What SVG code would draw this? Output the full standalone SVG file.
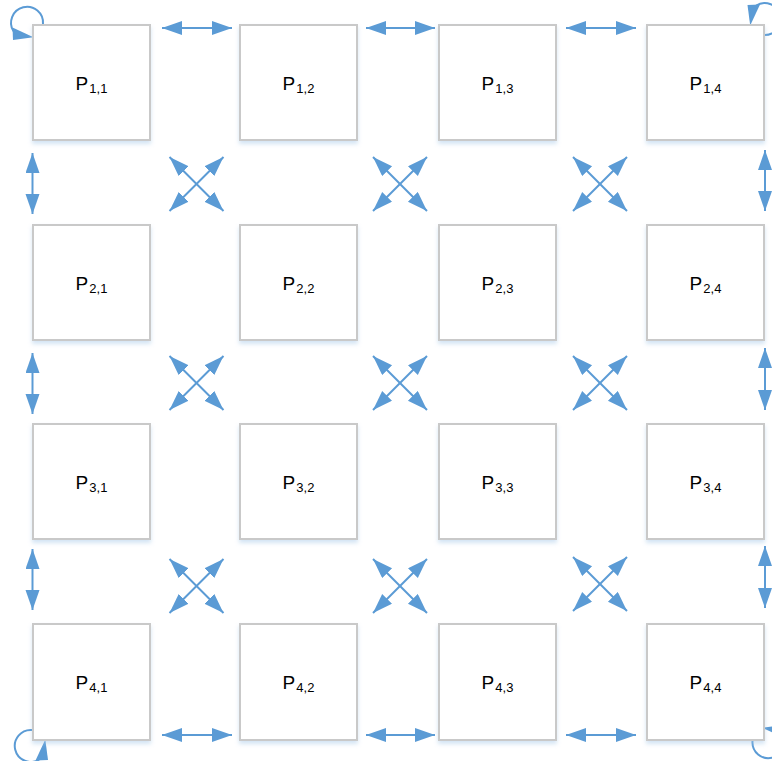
<svg xmlns="http://www.w3.org/2000/svg" xmlns:xlink="http://www.w3.org/1999/xlink" width="772" height="761" viewBox="0 0 772 761">
<style>
.box{fill:#ffffff;stroke:#c9c9c9;stroke-width:2;filter:url(#sh)}
.lbl{font-family:"Liberation Sans",Arial,sans-serif;font-size:19px;fill:#000;text-anchor:middle}
.sub{font-size:13px}
.ar{stroke:#5b9bd5;stroke-width:2;fill:none;marker-start:url(#ah);marker-end:url(#ah)}
.lp{stroke:#5b9bd5;stroke-width:2;fill:none}
.hd{fill:#5b9bd5}
</style>
<defs>
<filter id="sh" x="-10%" y="-10%" width="120%" height="125%">
<feDropShadow dx="0" dy="3" stdDeviation="2" flood-color="#9dc3e6" flood-opacity="0.45"/>
</filter>
<marker id="ah" markerUnits="userSpaceOnUse" markerWidth="22" markerHeight="16" refX="20" refY="7" orient="auto-start-reverse" viewBox="0 0 22 16">
<path d="M0,0 L20,7 L0,14 z" fill="#5b9bd5"/>
</marker>
<g id="loop">
<path class="lp" d="M11,0 A16,16 0 1 0 -18.5,7.3"/>
<polygon class="hd" points="-19.5,3.5 -19,16 1.5,13.3"/>
</g>
</defs>
<g id="connectors">
<line class="ar" x1="162" y1="28" x2="232" y2="28"/>
<line class="ar" x1="366" y1="28" x2="435" y2="28"/>
<line class="ar" x1="566" y1="28" x2="636" y2="28"/>
<line class="ar" x1="162" y1="735" x2="232" y2="735"/>
<line class="ar" x1="366" y1="735" x2="435" y2="735"/>
<line class="ar" x1="566" y1="735" x2="636" y2="735"/>
<line class="ar" x1="32.5" y1="153" x2="32.5" y2="214"/>
<line class="ar" x1="32.5" y1="353" x2="32.5" y2="414"/>
<line class="ar" x1="32.5" y1="549" x2="32.5" y2="610"/>
<line class="ar" x1="765" y1="150" x2="765" y2="211"/>
<line class="ar" x1="765" y1="348" x2="765" y2="410"/>
<line class="ar" x1="765" y1="546" x2="765" y2="608"/>
<line class="ar" x1="169.5" y1="157" x2="223.5" y2="211"/>
<line class="ar" x1="223.5" y1="157" x2="169.5" y2="211"/>
<line class="ar" x1="373" y1="157" x2="427" y2="211"/>
<line class="ar" x1="427" y1="157" x2="373" y2="211"/>
<line class="ar" x1="573" y1="157" x2="627" y2="211"/>
<line class="ar" x1="627" y1="157" x2="573" y2="211"/>
<line class="ar" x1="169.5" y1="356" x2="223.5" y2="410"/>
<line class="ar" x1="223.5" y1="356" x2="169.5" y2="410"/>
<line class="ar" x1="373" y1="356" x2="427" y2="410"/>
<line class="ar" x1="427" y1="356" x2="373" y2="410"/>
<line class="ar" x1="573" y1="356" x2="627" y2="410"/>
<line class="ar" x1="627" y1="356" x2="573" y2="410"/>
<line class="ar" x1="169.5" y1="559" x2="223.5" y2="613"/>
<line class="ar" x1="223.5" y1="559" x2="169.5" y2="613"/>
<line class="ar" x1="373" y1="559" x2="427" y2="613"/>
<line class="ar" x1="427" y1="559" x2="373" y2="613"/>
<line class="ar" x1="573" y1="557" x2="627" y2="611"/>
<line class="ar" x1="627" y1="557" x2="573" y2="611"/>
<use xlink:href="#loop" href="#loop" transform="translate(32,24)"/>
<use xlink:href="#loop" href="#loop" transform="translate(763.5,24) rotate(90)"/>
<use xlink:href="#loop" href="#loop" transform="translate(763.5,741) rotate(180)"/>
<use xlink:href="#loop" href="#loop" transform="translate(32,741) rotate(270)"/>
</g>
<g id="P11"><rect class="box" x="33" y="25" width="117" height="115"/><text class="lbl" x="91.5" y="90">P<tspan class="sub" dx="1" dy="3">1,1</tspan></text></g>
<g id="P12"><rect class="box" x="240" y="25" width="117" height="115"/><text class="lbl" x="298.5" y="90">P<tspan class="sub" dx="1" dy="3">1,2</tspan></text></g>
<g id="P13"><rect class="box" x="439" y="25" width="117" height="115"/><text class="lbl" x="497.5" y="90">P<tspan class="sub" dx="1" dy="3">1,3</tspan></text></g>
<g id="P14"><rect class="box" x="647" y="25" width="117" height="115"/><text class="lbl" x="705.5" y="90">P<tspan class="sub" dx="1" dy="3">1,4</tspan></text></g>
<g id="P21"><rect class="box" x="33" y="225" width="117" height="115"/><text class="lbl" x="91.5" y="290">P<tspan class="sub" dx="1" dy="3">2,1</tspan></text></g>
<g id="P22"><rect class="box" x="240" y="225" width="117" height="115"/><text class="lbl" x="298.5" y="290">P<tspan class="sub" dx="1" dy="3">2,2</tspan></text></g>
<g id="P23"><rect class="box" x="439" y="225" width="117" height="115"/><text class="lbl" x="497.5" y="290">P<tspan class="sub" dx="1" dy="3">2,3</tspan></text></g>
<g id="P24"><rect class="box" x="647" y="225" width="117" height="115"/><text class="lbl" x="705.5" y="290">P<tspan class="sub" dx="1" dy="3">2,4</tspan></text></g>
<g id="P31"><rect class="box" x="33" y="424" width="117" height="115"/><text class="lbl" x="91.5" y="489">P<tspan class="sub" dx="1" dy="3">3,1</tspan></text></g>
<g id="P32"><rect class="box" x="240" y="424" width="117" height="115"/><text class="lbl" x="298.5" y="489">P<tspan class="sub" dx="1" dy="3">3,2</tspan></text></g>
<g id="P33"><rect class="box" x="439" y="424" width="117" height="115"/><text class="lbl" x="497.5" y="489">P<tspan class="sub" dx="1" dy="3">3,3</tspan></text></g>
<g id="P34"><rect class="box" x="647" y="424" width="117" height="115"/><text class="lbl" x="705.5" y="489">P<tspan class="sub" dx="1" dy="3">3,4</tspan></text></g>
<g id="P41"><rect class="box" x="33" y="624" width="117" height="116"/><text class="lbl" x="91.5" y="689">P<tspan class="sub" dx="1" dy="3">4,1</tspan></text></g>
<g id="P42"><rect class="box" x="240" y="624" width="117" height="116"/><text class="lbl" x="298.5" y="689">P<tspan class="sub" dx="1" dy="3">4,2</tspan></text></g>
<g id="P43"><rect class="box" x="439" y="624" width="117" height="116"/><text class="lbl" x="497.5" y="689">P<tspan class="sub" dx="1" dy="3">4,3</tspan></text></g>
<g id="P44"><rect class="box" x="647" y="624" width="117" height="116"/><text class="lbl" x="705.5" y="689">P<tspan class="sub" dx="1" dy="3">4,4</tspan></text></g>
</svg>
